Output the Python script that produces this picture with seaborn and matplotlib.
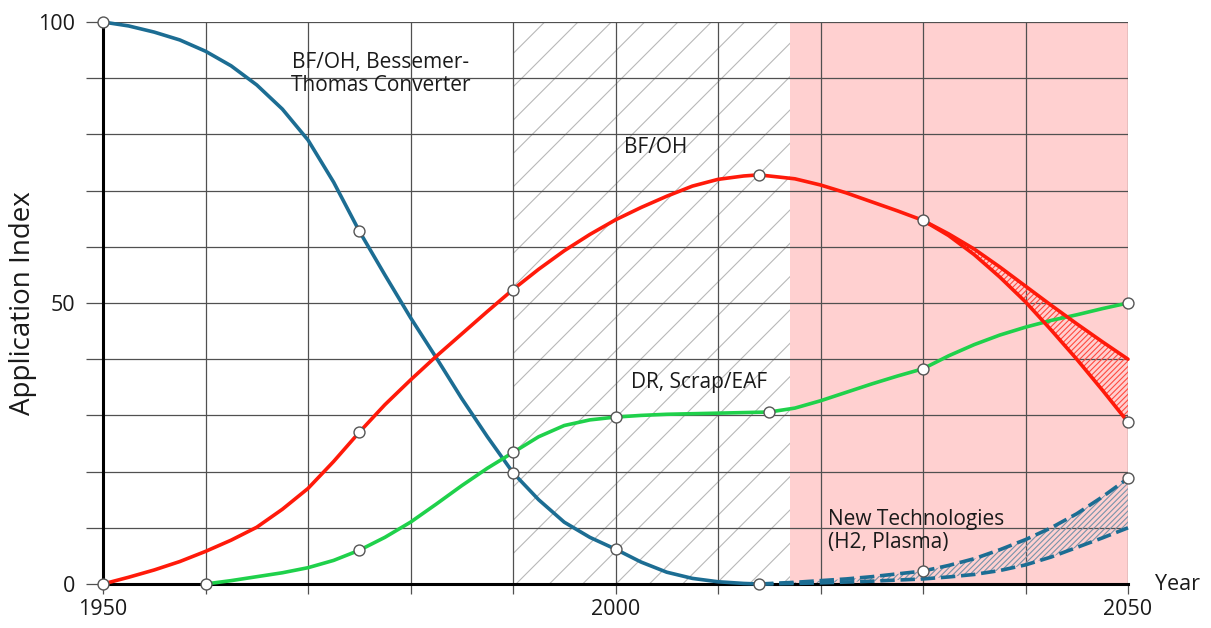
import numpy as np
import matplotlib
matplotlib.use("Agg")
import matplotlib.pyplot as plt
import seaborn as sns

# --- values ---
blue_years = [1950, 1952.5, 1955, 1957.5, 1960, 1962.5, 1965, 1967.5, 1970, 1972.5, 1975,
              1977.5, 1980, 1982.5, 1985, 1987.5, 1990, 1992.5, 1995, 1997.5, 2000,
              2002.5, 2005, 2007.5, 2010, 2012.5, 2014]
blue_vals = [100, 99.3, 98.2, 96.8, 94.8, 92.2, 88.8, 84.5, 79, 71.5, 62.8,
             55, 47.4, 40.3, 33, 26.2, 19.8, 15, 11, 8.3, 6.2,
             3.9, 2.1, 1.0, 0.4, 0.1, 0]

red_years = [1950, 1952.5, 1955, 1957.5, 1960, 1962.5, 1965, 1967.5, 1970, 1972.5, 1975,
             1977.5, 1980, 1982.5, 1985, 1987.5, 1990, 1992.5, 1995, 1997.5, 2000,
             2002.5, 2005, 2007.5, 2010, 2012.5, 2014, 2017.5, 2020, 2022.5, 2025,
             2027.5, 2030]
red_vals = [0, 1.2, 2.5, 4, 5.8, 7.8, 10.1, 13.3, 17, 21.8, 27,
            31.9, 36.3, 40.5, 44.5, 48.5, 52.4, 56, 59.3, 62.2, 64.8,
            67, 69, 70.8, 72, 72.6, 72.8, 72.1, 71, 69.6, 68,
            66.4, 64.7]
red_branch_years = [2030, 2032.5, 2035, 2037.5, 2040, 2042.5, 2045, 2047.5, 2050]
red_upper = [64.7, 62.3, 59.6, 56.4, 53, 49.6, 46.3, 43.1, 40]
red_lower = [64.7, 62, 58.6, 54.6, 50.2, 45.2, 40, 34.5, 28.8]

green_years = [1960, 1962.5, 1965, 1967.5, 1970, 1972.5, 1975, 1977.5, 1980, 1982.5, 1985,
               1987.5, 1990, 1992.5, 1995, 1997.5, 2000, 2002.5, 2005, 2007.5, 2010,
               2012.5, 2015, 2017.5, 2020, 2022.5, 2025, 2027.5, 2030, 2032.5, 2035,
               2037.5, 2040, 2042.5, 2045, 2047.5, 2050]
green_vals = [0, 0.6, 1.3, 2.0, 2.9, 4.2, 6, 8.3, 11, 14.2, 17.5,
              20.6, 23.4, 26.2, 28.2, 29.2, 29.7, 30, 30.2, 30.3, 30.4,
              30.5, 30.6, 31.3, 32.6, 34.1, 35.6, 37, 38.3, 40.6, 42.6,
              44.3, 45.7, 46.9, 47.9, 49, 50]

new_years = [2014, 2017.5, 2020, 2022.5, 2025, 2027.5, 2030, 2032.5, 2035, 2037.5, 2040,
             2042.5, 2045, 2047.5, 2050]
new_upper = [0, 0.3, 0.6, 0.9, 1.3, 1.8, 2.3, 3.3, 4.5, 6.1, 7.9, 10, 12.5, 15.5, 18.8]
new_lower = [0, 0.1, 0.2, 0.35, 0.5, 0.7, 0.9, 1.25, 1.7, 2.4, 3.4, 4.8, 6.5, 8.2, 10]

marker_x = [1950, 1975, 1990, 2000, 2014,
            1950, 1975, 1990, 2014, 2030, 2050,
            1960, 1975, 1990, 2000, 2015, 2030, 2050,
            2030, 2050]
marker_y = [100, 62.8, 19.8, 6.2, 0,
            0, 27, 52.4, 72.8, 64.7, 28.8,
            0, 6, 23.4, 29.7, 30.6, 38.3, 50,
            2.3, 18.8]

hatched_period = (1990, 2017)
future_period = (2017, 2050)

x_ticks = list(range(1950, 2051, 10))
x_labels = ["1950", "", "", "", "", "2000", "", "", "", "", "2050"]
y_ticks = list(range(0, 101, 10))
y_labels = ["0", "", "", "", "", "50", "", "", "", "", "100"]

BLUE = "#1c6d93"
RED = "#ff1a0a"
GREEN = "#1fd14b"
GRID = "#505050"
INK = "#1a1a1a"

sns.set_style("white")
plt.rcParams["font.family"] = ["Open Sans", "DejaVu Sans"]
plt.rcParams["hatch.linewidth"] = 0.8
plt.rcParams["text.color"] = INK
plt.rcParams["axes.labelcolor"] = INK
plt.rcParams["xtick.labelcolor"] = INK
plt.rcParams["ytick.labelcolor"] = INK

fig = plt.figure(figsize=(12.11, 6.28), dpi=100)
ax = fig.add_axes([103 / 1211, 44 / 628, 1025 / 1211, 562 / 628])

# background periods
ax.axvspan(*future_period, facecolor="#ffd0d0", edgecolor="none", zorder=0)
ax.axvspan(*hatched_period, facecolor="none", edgecolor="#b8b8b8", hatch="/", lw=0, zorder=0.5)

# hatched uncertainty bands
ax.fill_between(red_branch_years, red_lower, red_upper, facecolor="none",
                edgecolor="#ff4a40", hatch="//////", lw=0, zorder=2.6)
ax.fill_between(new_years, new_lower, new_upper, facecolor="none",
                edgecolor="#7894aa", hatch="//////", lw=0, zorder=2.6)

lw = 2.6
common = dict(lw=lw, ax=ax, sort=False, estimator=None, clip_on=False)
sns.lineplot(x=blue_years, y=blue_vals, color=BLUE, zorder=3, **common)
sns.lineplot(x=green_years, y=green_vals, color=GREEN, zorder=3, **common)
sns.lineplot(x=red_years, y=red_vals, color=RED, zorder=3.2, **common)
sns.lineplot(x=red_branch_years, y=red_lower, color=RED, zorder=3.2, **common)
sns.lineplot(x=red_branch_years, y=red_upper, color=RED, zorder=3.2, **common)
sns.lineplot(x=new_years, y=new_upper, color=BLUE, zorder=3, **common).lines[-1].set_dashes((4, 1.6))
sns.lineplot(x=new_years, y=new_lower, color=BLUE, zorder=3, **common).lines[-1].set_dashes((4, 1.6))

sns.scatterplot(x=marker_x, y=marker_y, s=62, color="white", edgecolor="#555555",
                linewidth=1.0, ax=ax, zorder=5, clip_on=False)

ax.set_xlim(1950, 2050)
ax.set_ylim(0, 100)
ax.set_xticks(x_ticks)
ax.set_xticklabels(x_labels)
ax.set_yticks(y_ticks)
ax.set_yticklabels(y_labels)
ax.grid(True, color=GRID, lw=0.9)
for gl in ax.get_xgridlines() + ax.get_ygridlines():
    gl.set_zorder(1)
ax.tick_params(axis="x", length=7, width=0.9, color=GRID, labelsize=15.5, pad=4, bottom=True)
ax.tick_params(axis="y", length=12, width=0.9, color=GRID, labelsize=15.5, pad=8, left=True)

for side in ["top", "right"]:
    ax.spines[side].set_visible(False)
for side in ["left", "bottom"]:
    ax.spines[side].set_color("black")
    ax.spines[side].set_linewidth(2.2)
    ax.spines[side].set_zorder(2.8)

ax.set_xlabel("")
ax.set_ylabel("Application Index", fontsize=20)
ax.yaxis.set_label_coords(-0.064, 0.5)

ax.text(2052.6, 0, "Year", fontsize=15.5, ha="left", va="center", clip_on=False)
ax.text(1977.1, 90.7, "BF/OH, Bessemer-\nThomas Converter", fontsize=15, ha="center",
        va="center", linespacing=1.1)
ax.text(2003.9, 77.6, "BF/OH", fontsize=15, ha="center", va="center")
ax.text(2008.2, 35.9, "DR, Scrap/EAF", fontsize=15, ha="center", va="center")
ax.text(2020.7, 9.4, "New Technologies\n(H2, Plasma)", fontsize=15, ha="left",
        va="center", linespacing=1.1)

fig.savefig("out.png", dpi=100)
